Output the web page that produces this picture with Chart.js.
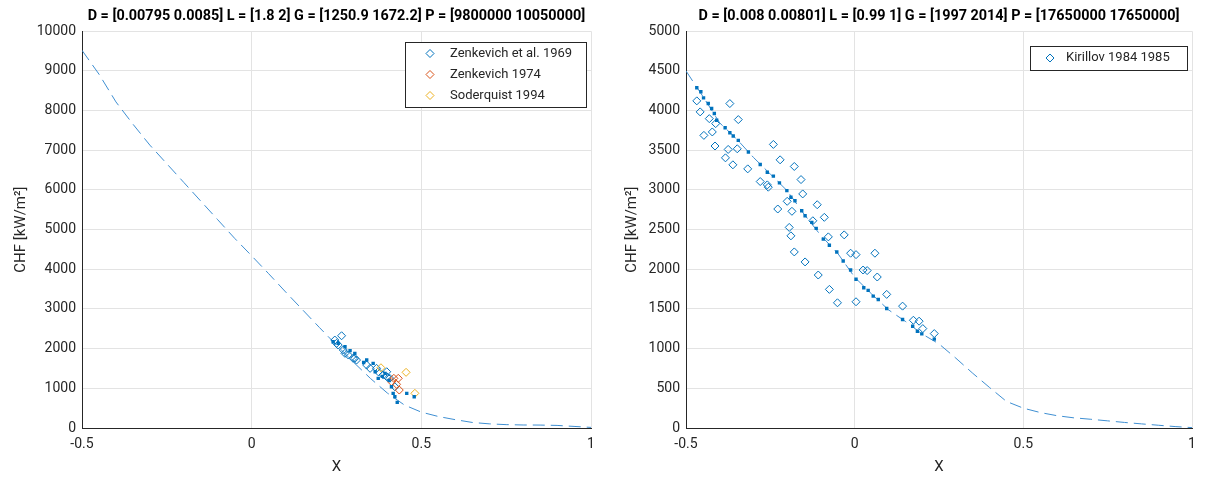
<!DOCTYPE html>
<html lang="en">
<head>
  <meta charset="UTF-8" />
  <title>CHF vs X</title>
  <script src="https://cdn.jsdelivr.net/npm/chart.js"></script>
  <style>
    body {
      margin: 0;
      background: #ffffff;
      width: 1213px;
      height: 479px;
      position: relative;
      overflow: hidden;
    }
    canvas {
      position: absolute;
      top: 0;
    }
    #chfLeft { left: 0; }
    #chfRight { left: 606px; }
  </style>
</head>
<body>
  <canvas id="chfLeft" width="606" height="479"></canvas>
  <canvas id="chfRight" width="607" height="479"></canvas>

  <script>
    // ticks
    const xTicks = [-0.5, 0, 0.5, 1];
    const leftYTicks = [0, 1000, 2000, 3000, 4000, 5000, 6000, 7000, 8000, 9000, 10000];
    const rightYTicks = [0, 500, 1000, 1500, 2000, 2500, 3000, 3500, 4000, 4500, 5000];

    // left panel: model curve
    const leftCurveX = [-0.5, -0.45, -0.4, -0.35, -0.3, -0.25, -0.2, -0.15, -0.1, -0.05, 0, 0.05, 0.1, 0.15, 0.2, 0.25, 0.3, 0.35, 0.4, 0.45, 0.5, 0.55, 0.6, 0.65, 0.7, 0.75, 0.8, 0.85, 0.9, 0.95, 1];
    const leftCurveY = [9520, 8920, 8220, 7660, 7130, 6660, 6190, 5720, 5250, 4780, 4340, 3890, 3430, 2980, 2530, 2090, 1660, 1250, 880, 580, 400, 290, 210, 140, 105, 85, 76, 74, 65, 40, 15];

    // left panel: experiments
    const zenk69X = [0.265, 0.245, 0.255, 0.250, 0.270, 0.275, 0.285, 0.299, 0.304, 0.309, 0.339, 0.349, 0.368, 0.373, 0.388, 0.398, 0.398, 0.407, 0.422];
    const zenk69Y = [2325, 2217, 2091, 2134, 1965, 1882, 1839, 1756, 1756, 1713, 1587, 1504, 1504, 1418, 1335, 1418, 1292, 1252, 1040];
    const zenk74X = [0.419, 0.432, 0.412, 0.427, 0.435];
    const zenk74Y = [1252, 1252, 1166, 1101, 957];
    const soderX = [0.381, 0.455, 0.481];
    const soderY = [1519, 1403, 874];

    // left panel: predicted values at the experimental points
    const leftPredX = [0.240, 0.255, 0.275, 0.290, 0.304, 0.330, 0.339, 0.358, 0.364, 0.373, 0.385, 0.393, 0.405, 0.412, 0.417, 0.422, 0.429, 0.457, 0.479];
    const leftPredY = [2174, 2134, 2048, 1950, 1882, 1650, 1713, 1630, 1418, 1252, 1300, 1378, 1200, 1040, 874, 788, 647, 874, 788];

    // right panel: model curve
    const rightCurveX = leftCurveX;
    const rightCurveY = [4500, 4180, 3845, 3643, 3410, 3200, 2990, 2695, 2425, 2200, 1900, 1690, 1490, 1345, 1185, 1060, 880, 690, 510, 335, 250, 195, 155, 128, 110, 90, 70, 52, 35, 18, 5];

    // right panel: experiments (Kirillov 1984 1985)
    const kirillovX = [-0.468, -0.370, -0.458, -0.431, -0.345, -0.412, -0.422, -0.447, -0.414, -0.375, -0.348, -0.383, -0.361, -0.317, -0.241, -0.221, -0.179, -0.280, -0.259, -0.256, -0.159, -0.154, -0.200, -0.186, -0.228, -0.111, -0.090, -0.124, -0.194, -0.189, -0.078, -0.031, -0.179, -0.012, 0.004, 0.060, 0.025, 0.037, 0.067, 0.095, 0.004, -0.051, 0.142, 0.174, 0.191, 0.202, 0.236, -0.147, -0.108, -0.075];
    const kirillovY = [4123, 4089, 3984, 3899, 3887, 3836, 3731, 3688, 3554, 3511, 3519, 3405, 3317, 3266, 3574, 3380, 3296, 3106, 3064, 3035, 3131, 2950, 2857, 2731, 2760, 2814, 2655, 2612, 2528, 2422, 2409, 2434, 2219, 2203, 2185, 2203, 1991, 1984, 1903, 1684, 1591, 1578, 1536, 1358, 1346, 1253, 1190, 2093, 1928, 1747];

    // right panel: predicted values
    const rightPredX = [-0.468, -0.456, -0.448, -0.434, -0.424, -0.416, -0.409, -0.384, -0.370, -0.360, -0.345, -0.315, -0.280, -0.259, -0.241, -0.223, -0.201, -0.189, -0.177, -0.157, -0.147, -0.127, -0.114, -0.093, -0.075, -0.053, -0.034, -0.012, 0.004, 0.027, 0.040, 0.055, 0.070, 0.095, 0.142, 0.172, 0.186, 0.199, 0.236];
    const rightPredY = [4288, 4237, 4161, 4089, 4026, 3963, 3878, 3785, 3722, 3680, 3625, 3478, 3321, 3224, 3174, 3089, 2992, 2908, 2865, 2738, 2675, 2592, 2516, 2380, 2304, 2219, 2105, 1991, 1874, 1768, 1734, 1662, 1620, 1507, 1367, 1283, 1219, 1186, 1120];

    const BLUE = '#0072BD';
    const RED = '#D95319';
    const YELLOW = '#EDB120';
    const TXT = '#262626';
    const FONT = 'Roboto, "Liberation Sans", sans-serif';

    function pts(xs, ys) {
      return xs.map((x, i) => ({ x: x, y: ys[i] }));
    }

    // legend drawn inside the plot box, top right corner
    const insideLegend = {
      id: 'insideLegend',
      afterDraw(chart, args, opts) {
        const items = chart.data.datasets.filter(d => d.inLegend);
        if (!items.length) return;
        const ctx = chart.ctx;
        const area = chart.chartArea;
        const h = items.length * opts.rowH + opts.padV * 2;
        const x0 = Math.round(area.right - opts.right - opts.width);
        const y0 = Math.round(area.top + opts.top);
        ctx.save();
        ctx.fillStyle = '#ffffff';
        ctx.fillRect(x0, y0, opts.width, h);
        ctx.strokeStyle = TXT;
        ctx.lineWidth = 1;
        ctx.strokeRect(x0 + 0.5, y0 + 0.5, opts.width, h);
        ctx.font = '13px ' + FONT;
        ctx.textBaseline = 'middle';
        items.forEach((d, i) => {
          const cy = y0 + opts.padV + opts.rowH * (i + 0.5);
          ctx.strokeStyle = d.borderColor;
          ctx.fillStyle = 'rgba(0,0,0,0)';
          ctx.lineWidth = 1;
          Chart.helpers.drawPoint(ctx, { pointStyle: 'rectRot', radius: 4, borderWidth: 1, rotation: 0 }, x0 + opts.markerX, cy);
          ctx.fillStyle = TXT;
          ctx.fillText(d.label, x0 + opts.textX, cy);
        });
        ctx.restore();
      }
    };

    function makeChart(id, p) {
      const ctx = document.getElementById(id).getContext('2d');
      return new Chart(ctx, {
        type: 'scatter',
        data: { datasets: p.datasets },
        plugins: [insideLegend],
        options: {
          responsive: false,
          animation: false,
          devicePixelRatio: 1,
          layout: { padding: { left: 0, right: p.padRight, top: 0, bottom: 0 } },
          plugins: {
            legend: { display: false },
            tooltip: { enabled: false },
            title: {
              display: true,
              text: p.title,
              fullSize: false,
              color: '#000000',
              font: { family: FONT, size: 14.4, weight: 'bold', lineHeight: 1.2 },
              padding: { top: 8, bottom: 6 }
            },
            insideLegend: p.legend
          },
          scales: {
            x: {
              type: 'linear',
              min: -0.5,
              max: 1,
              afterBuildTicks: s => { s.ticks = xTicks.map(v => ({ value: v })); },
              afterFit: s => { s.height = 51; },
              ticks: {
                color: TXT,
                padding: 8,
                font: { family: FONT, size: 14 },
                callback: v => String(v)
              },
              grid: { color: '#e3e3e3', drawTicks: false },
              border: { color: TXT, width: 1 },
              title: {
                display: true,
                text: 'X',
                color: TXT,
                font: { family: FONT, size: 15 },
                padding: { top: 0, bottom: 3 }
              }
            },
            y: {
              type: 'linear',
              min: 0,
              max: p.yMax,
              afterBuildTicks: s => { s.ticks = p.yTicks.map(v => ({ value: v })); },
              afterFit: s => { s.width = p.yWidth; },
              ticks: {
                color: TXT,
                padding: 6,
                font: { family: FONT, size: 14 },
                callback: v => String(v)
              },
              grid: { color: '#e3e3e3', drawTicks: false },
              border: { color: TXT, width: 1 },
              title: {
                display: true,
                text: 'CHF [kW/m²]',
                color: TXT,
                font: { family: FONT, size: 15 },
                padding: { top: p.yTitlePad, bottom: 0 }
              }
            }
          }
        }
      });
    }

    function curveSet(xs, ys) {
      return {
        label: 'model',
        data: pts(xs, ys),
        showLine: true,
        borderColor: '#3f8fd2',
        borderWidth: 1,
        borderDash: [12, 6],
        pointRadius: 0,
        order: 3
      };
    }

    function openSet(label, xs, ys, color, order) {
      return {
        label: label,
        inLegend: true,
        data: pts(xs, ys),
        showLine: false,
        pointStyle: 'rectRot',
        pointRadius: 4,
        pointBorderWidth: 1,
        borderColor: color,
        backgroundColor: 'rgba(0,0,0,0)',
        order: order
      };
    }

    function predSet(xs, ys) {
      return {
        label: 'predicted',
        data: pts(xs, ys),
        showLine: false,
        pointStyle: 'rect',
        pointRadius: 2.4,
        pointBorderWidth: 0,
        borderColor: BLUE,
        backgroundColor: BLUE,
        order: 0
      };
    }

    makeChart('chfLeft', {
      title: 'D = [0.00795 0.0085] L = [1.8 2] G = [1250.9 1672.2] P = [9800000 10050000]',
      yMax: 10000,
      yTicks: leftYTicks,
      yWidth: 82,
      yTitlePad: 12,
      padRight: 15,
      legend: { width: 181, top: 11, right: 5, rowH: 21, padV: 1, markerX: 25, textX: 45 },
      datasets: [
        curveSet(leftCurveX, leftCurveY),
        openSet('Zenkevich et al. 1969', zenk69X, zenk69Y, BLUE, 2),
        openSet('Zenkevich 1974', zenk74X, zenk74Y, RED, 1),
        openSet('Soderquist 1994', soderX, soderY, YELLOW, 1),
        predSet(leftPredX, leftPredY)
      ]
    });

    makeChart('chfRight', {
      title: 'D = [0.008 0.00801] L = [0.99 1] G = [1997 2014] P = [17650000 17650000]',
      yMax: 5000,
      yTicks: rightYTicks,
      yWidth: 80,
      yTitlePad: 17,
      padRight: 21,
      legend: { width: 157, top: 15, right: 5, rowH: 22, padV: 1, markerX: 20, textX: 36 },
      datasets: [
        curveSet(rightCurveX, rightCurveY),
        openSet('Kirillov 1984 1985', kirillovX, kirillovY, BLUE, 2),
        predSet(rightPredX, rightPredY)
      ]
    });
  </script>
</body>
</html>
